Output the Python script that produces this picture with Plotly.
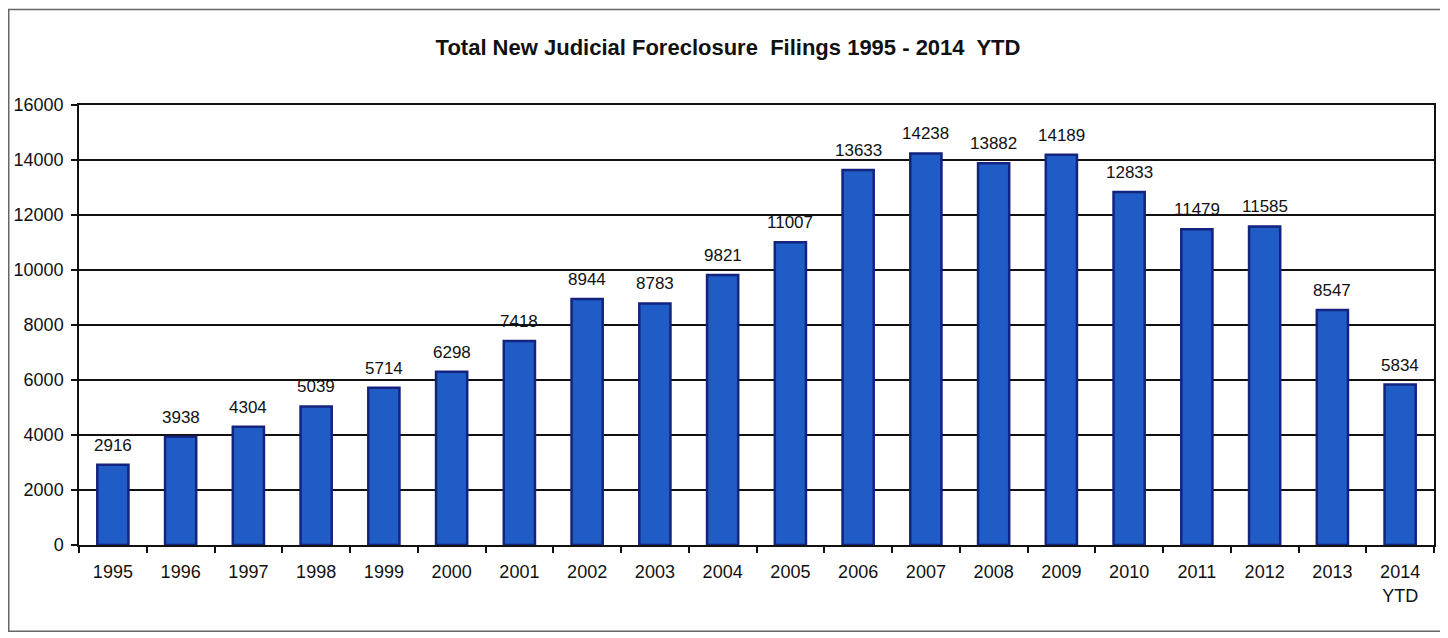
import plotly.graph_objects as go

years = ["1995", "1996", "1997", "1998", "1999", "2000", "2001", "2002", "2003", "2004",
         "2005", "2006", "2007", "2008", "2009", "2010", "2011", "2012", "2013", "2014<br>YTD"]
filings = [2916, 3938, 4304, 5039, 5714, 6298, 7418, 8944, 8783, 9821,
           11007, 13633, 14238, 13882, 14189, 12833, 11479, 11585, 8547, 5834]
y_ticks = [0, 2000, 4000, 6000, 8000, 10000, 12000, 14000, 16000]

title_text = "Total New Judicial Foreclosure  Filings 1995 - 2014  YTD"
FONT = "Liberation Sans, Arial, sans-serif"

fig = go.Figure(go.Bar(
    x=years, y=filings,
    marker=dict(color="#1f5cc6", line=dict(color="#14237e", width=2.5)),
))

# value labels above the bars (category index positions on the category axis)
for i, val in enumerate(filings):
    fig.add_annotation(x=i, y=val, xref="x", yref="y", text=str(val), showarrow=False,
                       yanchor="bottom", yshift=8,
                       font=dict(family=FONT, size=17, color="#111111"))

# page has an 8px body margin; figure sized to fit the window
W, H = 1440, 630
L, R, T, B = 71, 14, 96.5, 92.5
pw, ph = W - L - R, H - T - B

fig.update_layout(
    width=W, height=H,
    margin=dict(l=L, r=R, t=T, b=B),
    paper_bgcolor="white", plot_bgcolor="white",
    bargap=0.54,
    showlegend=False,
    title=dict(text="<b>" + title_text + "</b>", x=0.5, xanchor="center",
               y=1 - 39 / H, yanchor="middle",
               font=dict(family="Liberation Sans Narrow, Arial Narrow, Liberation Sans, sans-serif",
                         size=22, color="#111111")),
    font=dict(family=FONT, size=17, color="#111111"),
    shapes=[dict(type="rect", xref="paper", yref="paper",
                 x0=(0.75 - L) / pw, x1=(1435 - L) / pw,
                 y0=-(624 - (H - B)) / ph, y1=1 + (T - 0.75) / ph,
                 line=dict(color="#666666", width=1.5), layer="below")],
)

fig.update_xaxes(
    type="category", categoryorder="array", categoryarray=years,
    range=[-0.5, len(years) - 0.5], automargin=False,
    showline=True, linecolor="#111111", linewidth=1.5, mirror=True,
    ticks="outside", tickson="boundaries", ticklen=6, tickcolor="#111111", tickwidth=1.5,
    ticklabelstandoff=10,
    tickfont=dict(size=18, family=FONT, color="#111111"),
    showgrid=False,
)
fig.update_yaxes(
    range=[0, 16000], tickvals=y_ticks, ticktext=[str(v) for v in y_ticks],
    automargin=False,
    showline=True, linecolor="#111111", linewidth=1.5, mirror=True,
    ticks="outside", ticklen=6, tickcolor="#111111", tickwidth=1.5,
    ticklabelstandoff=4,
    showgrid=True, gridcolor="#111111", gridwidth=1.5,
    zeroline=False,
    tickfont=dict(size=18, family=FONT, color="#111111"),
)

fig.write_html("out.html")
